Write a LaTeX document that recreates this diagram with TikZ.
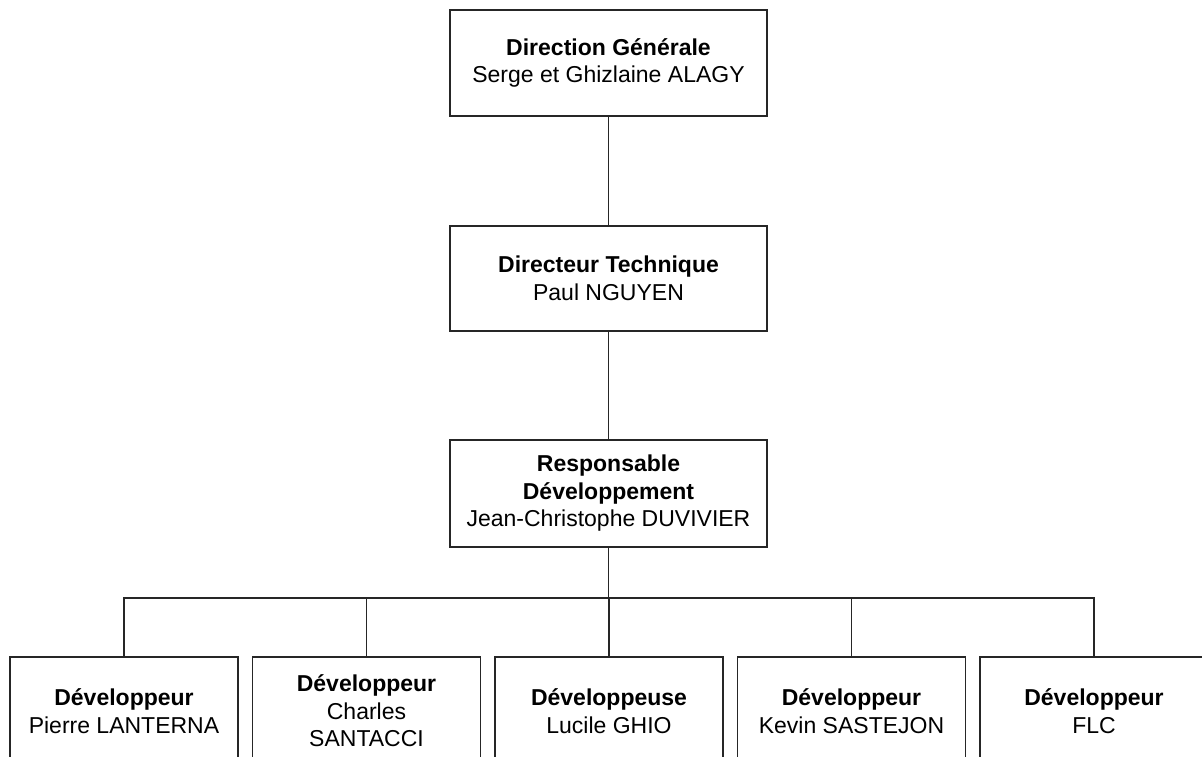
\documentclass[tikz,border=0pt]{standalone}
\usepackage{fontspec}
\setmainfont{Liberation Sans}
\begin{document}
\begin{tikzpicture}[x=1pt,y=-1pt,
  orgbox/.style={draw=black!85, line width=1.1pt, fill=white, inner sep=0pt,
    align=center, font=\fontsize{23}{27.5}\selectfont},
  wide/.style={orgbox, minimum width=317pt},
  narrow/.style={orgbox, minimum width=228pt, minimum height=108pt},
  link/.style={draw=black!85, line width=1.1pt}]
  % page area
  \fill[white] (0,0) rectangle (1202,756);
  \useasboundingbox (0,0) rectangle (1202,756);
  \clip (0,0) rectangle (1202,756);

  % management chain
  \node[wide, minimum height=106pt] (dg) at (608.5,63)
    {\textbf{Direction Générale}\\Serge et Ghizlaine ALAGY};
  \node[wide, minimum height=105pt] (dt) at (608.5,278.5)
    {\textbf{Directeur Technique}\\Paul NGUYEN};
  \node[wide, minimum height=107pt] (rd) at (608.5,493.5)
    {\textbf{Responsable}\\\textbf{Développement}\\Jean-Christophe DUVIVIER};

  % developers
  \node[narrow] (d1) at (124,711) {\textbf{Développeur}\\Pierre LANTERNA};
  \node[narrow] (d2) at (366.5,711) {\textbf{Développeur}\\Charles\\SANTACCI};
  \node[narrow] (d3) at (609,711) {\textbf{Développeuse}\\Lucile GHIO};
  \node[narrow] (d4) at (851.5,711) {\textbf{Développeur}\\Kevin SASTEJON};
  \node[narrow] (d5) at (1094,711) {\textbf{Développeur}\\FLC};

  % connectors
  \coordinate (bus) at (608.5,598);
  \draw[link] (dg.south) -- (dt.north);
  \draw[link] (dt.south) -- (rd.north);
  \draw[link] (rd.south) -- (bus);
  \draw[link] (d1.north) -- (d1.north |- bus) -- (d5.north |- bus) -- (d5.north);
  \draw[link] (d2.north) -- (d2.north |- bus);
  \draw[link] (d3.north) -- (d3.north |- bus);
  \draw[link] (d4.north) -- (d4.north |- bus);
\end{tikzpicture}
\end{document}
